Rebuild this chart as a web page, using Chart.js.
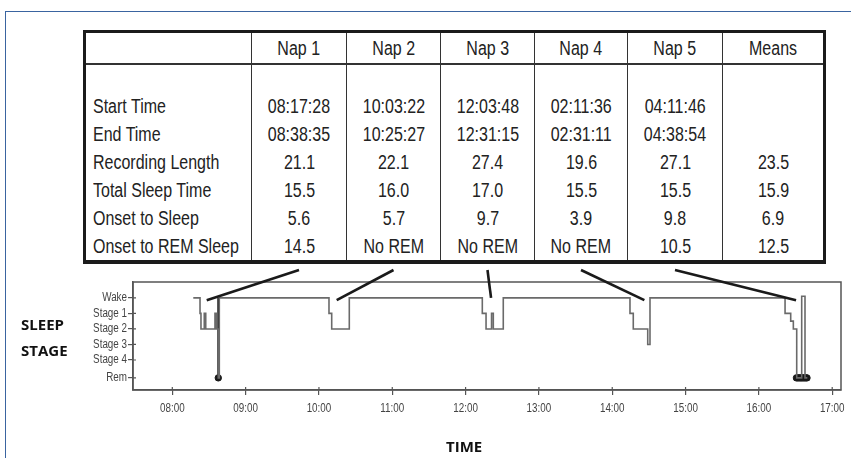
<!DOCTYPE html>
<html lang="en">
<head>
<meta charset="UTF-8">
<title>Nap study hypnogram</title>
<script src="https://cdn.jsdelivr.net/npm/chart.js@4.4.1/dist/chart.umd.min.js"></script>
<style>
    body{ margin:0; width:851px; height:458px; overflow:hidden; background:#fff; position:relative; }
    #frame{ position:absolute; left:5px; top:11px; width:900px; height:500px; border:1.5px solid #3a64a0; }
    #chart{ position:absolute; left:0; top:0; }
    #tbl{
        position:absolute; left:83px; top:30px; width:740px;
        border-collapse:collapse; table-layout:fixed;
        border:3px solid #1b1b1b; border-bottom-width:4px;
        font-family:'Liberation Sans',Arial,sans-serif; font-size:20px; color:#222;
        background:#fff;
    }
    #tbl th{ height:30px; font-weight:normal; border-left:1px solid #333; border-bottom:2px solid #333; padding:0; text-align:center; }
    #tbl td{ height:28px; border-left:1px solid #333; text-align:center; padding:0; white-space:nowrap; }
    #tbl td.lbl{ text-align:left; padding-left:7px; }
    #tbl tr.gap td{ height:27px; }
    .nar{ display:inline-block; white-space:nowrap; transform:scaleX(0.8); margin:0 -40px; }
    .lbl .nar{ transform-origin:left center; margin:0; }
    .bold{ position:absolute; font-family:'Open Sans',sans-serif; font-weight:700; font-size:15px; color:#111; }
</style>
</head>
<body>
<div id="frame"></div>
<canvas id="chart" width="851" height="458"></canvas>
<table id="tbl"></table>
<div class="bold" style="left:21px; top:311px; line-height:26px;">SLEEP<br>STAGE</div>
<div class="bold" style="left:446px; top:436px;">TIME</div>

<script>
    // table data
    var napLabels = ['Nap 1', 'Nap 2', 'Nap 3', 'Nap 4', 'Nap 5', 'Means'];
    var rowLabels = ['Start Time', 'End Time', 'Recording Length', 'Total Sleep Time', 'Onset to Sleep', 'Onset to REM Sleep'];
    var startTimes = ['08:17:28', '10:03:22', '12:03:48', '02:11:36', '04:11:46', ''];
    var endTimes = ['08:38:35', '10:25:27', '12:31:15', '02:31:11', '04:38:54', ''];
    var recordingLength = [21.1, 22.1, 27.4, 19.6, 27.1, 23.5];
    var totalSleepTime = [15.5, 16.0, 17.0, 15.5, 15.5, 15.9];
    var onsetToSleep = [5.6, 5.7, 9.7, 3.9, 9.8, 6.9];
    var onsetToRem = ['14.5', 'No REM', 'No REM', 'No REM', '10.5', '12.5'];

    // hypnogram axes
    var stageNames = ['Wake', 'Stage 1', 'Stage 2', 'Stage 3', 'Stage 4', 'Rem'];
    var stageLevels = [0, 1, 2, 3, 4, 5.15];
    var hourTicks = [8, 9, 10, 11, 12, 13, 14, 15, 16, 17];
    var hourLabels = ['08:00', '09:00', '10:00', '11:00', '12:00', '13:00', '14:00', '15:00', '16:00', '17:00'];

    // hypnogram trace: clock hour where the stage changes, and the new stage level
    var traceTimes = [8.286, 8.378, 8.391, 8.436, 8.456, 8.582, 8.603, 8.627, 8.641,
                      10.137, 10.174, 10.414,
                      12.228, 12.279, 12.354, 12.378, 12.514,
                      14.242, 14.287, 14.484, 14.515,
                      16.357, 16.434, 16.470, 16.516, 16.584, 16.629, 16.661];
    var traceStages = [0, 1, 2, 1, 2, 1, 2, 5.15, 0,
                       1, 2, 0,
                       1, 2, 1, 2, 0,
                       1, 2, 3, 0,
                       1, 1.5, 2, 5.15, -0.1, 5.15, 5.15];

    // first REM entry (dark line) and REM markers
    var remLineTimes = [8.627, 8.627];
    var remLineStages = [0, 5.15];
    var remDotTimes = [8.627, 16.512, 16.530, 16.548, 16.566, 16.584, 16.602, 16.620, 16.640, 16.656];
    var remDotStages = [5.15, 5.15, 5.15, 5.15, 5.15, 5.15, 5.15, 5.15, 5.15, 5.15];

    // where each table column points into the hypnogram
    var linkTimes = [8.469, 10.242, 12.347, 14.438, 16.507];
    var linkStages = [0.15, 0.15, 0, 0.15, 0.15];

    function narrowCell(cell, text){
        var s = document.createElement('span');
        s.className = 'nar';
        s.textContent = text;
        cell.appendChild(s);
    }

    function buildTable(){
        var tbl = document.getElementById('tbl');
        var colWidths = [167, 95, 94, 94, 93, 95, 102];
        var cg = document.createElement('colgroup');
        colWidths.forEach(function(w){
            var c = document.createElement('col');
            c.style.width = w + 'px';
            cg.appendChild(c);
        });
        tbl.appendChild(cg);

        var head = tbl.insertRow();
        head.appendChild(document.createElement('th'));
        napLabels.forEach(function(n){
            var th = document.createElement('th');
            narrowCell(th, n);
            head.appendChild(th);
        });

        var gap = tbl.insertRow();
        gap.className = 'gap';
        for (var i = 0; i < 7; i++) gap.insertCell();

        var rows = [
            startTimes,
            endTimes,
            recordingLength.map(function(v){ return v.toFixed(1); }),
            totalSleepTime.map(function(v){ return v.toFixed(1); }),
            onsetToSleep.map(function(v){ return v.toFixed(1); }),
            onsetToRem
        ];
        rows.forEach(function(vals, r){
            var row = tbl.insertRow();
            var lbl = row.insertCell();
            lbl.className = 'lbl';
            narrowCell(lbl, rowLabels[r]);
            vals.forEach(function(v){
                narrowCell(row.insertCell(), v);
            });
        });
    }
    buildTable();

    function pts(xs, ys){
        return xs.map(function(x, i){ return { x: x, y: ys[i] }; });
    }

    var labelFont = "12px 'Liberation Sans', Arial, sans-serif";

    // box round the plot, condensed tick labels, and the lines from the table into the plot
    var framePlugin = {
        id: 'framePlugin',
        afterDatasetsDraw: function(chart){
            var ctx = chart.ctx, a = chart.chartArea;
            var xs = chart.scales.x, ys = chart.scales.y;
            ctx.save();
            ctx.strokeStyle = '#555';
            ctx.lineWidth = 1.5;
            ctx.strokeRect(a.left, a.top, a.right - a.left, a.bottom - a.top);

            // tick marks run a little into the plot too
            ctx.lineWidth = 1.2;
            ctx.beginPath();
            xs.ticks.forEach(function(t){
                var px = xs.getPixelForValue(t.value);
                ctx.moveTo(px, a.bottom - 3);
                ctx.lineTo(px, a.bottom);
            });
            ys.ticks.forEach(function(t){
                var py = ys.getPixelForValue(t.value);
                ctx.moveTo(a.left, py);
                ctx.lineTo(a.left + 3, py);
            });
            ctx.stroke();

            ctx.fillStyle = '#444';
            ctx.font = labelFont;
            ctx.textBaseline = 'middle';
            ys.ticks.forEach(function(t, i){
                ctx.save();
                ctx.translate(a.left - 6, ys.getPixelForValue(t.value));
                ctx.scale(0.82, 1);
                ctx.textAlign = 'right';
                ctx.fillText(stageNames[i], 0, 0);
                ctx.restore();
            });
            xs.ticks.forEach(function(t, i){
                ctx.save();
                ctx.translate(xs.getPixelForValue(t.value), a.bottom + 19);
                ctx.scale(0.82, 1);
                ctx.textAlign = 'center';
                ctx.fillText(hourLabels[i], 0, 0);
                ctx.restore();
            });

            var tblRect = document.getElementById('tbl').getBoundingClientRect();
            var heads = document.querySelectorAll('#tbl th');
            ctx.strokeStyle = '#1a1a1a';
            ctx.lineWidth = 2.6;
            linkTimes.forEach(function(t, i){
                var hr = heads[i + 1].getBoundingClientRect();
                var x0 = hr.left + hr.width / 2;
                var y0 = tblRect.bottom + 6;
                ctx.beginPath();
                ctx.moveTo(x0, y0);
                ctx.lineTo(xs.getPixelForValue(t), ys.getPixelForValue(linkStages[i]));
                ctx.stroke();
            });
            ctx.restore();
        }
    };

    new Chart(document.getElementById('chart'), {
        type: 'line',
        data: {
            datasets: [
                {
                    data: pts(traceTimes, traceStages),
                    stepped: true,
                    borderColor: '#6a6a6a',
                    borderWidth: 1.6,
                    pointRadius: 0,
                    fill: false
                },
                {
                    data: pts(remLineTimes, remLineStages),
                    borderColor: '#1a1a1a',
                    borderWidth: 2,
                    pointRadius: 0,
                    fill: false
                },
                {
                    data: pts(remDotTimes, remDotStages),
                    showLine: false,
                    pointRadius: 3.2,
                    pointBackgroundColor: '#1a1a1a',
                    pointBorderColor: '#1a1a1a'
                }
            ]
        },
        options: {
            responsive: false,
            animation: false,
            layout: { padding: { left: 63, top: 282, right: 10, bottom: 0 } },
            plugins: { legend: { display: false }, tooltip: { enabled: false } },
            scales: {
                x: {
                    type: 'linear',
                    min: 7.464,
                    max: 17.12,
                    afterBuildTicks: function(scale){
                        scale.ticks = hourTicks.map(function(v){ return { value: v }; });
                    },
                    afterFit: function(scale){ scale.height = 68; },
                    ticks: { display: false },
                    grid: { drawOnChartArea: false, tickLength: 5, color: '#555', lineWidth: 1.2 },
                    border: { color: '#555', width: 1.5 }
                },
                y: {
                    type: 'linear',
                    reverse: true,
                    min: -1.02,
                    max: 5.93,
                    afterBuildTicks: function(scale){
                        scale.ticks = stageLevels.map(function(v){ return { value: v }; });
                    },
                    afterFit: function(scale){ scale.width = 70; },
                    ticks: { display: false },
                    grid: { drawOnChartArea: false, tickLength: 5, color: '#555', lineWidth: 1.2 },
                    border: { color: '#555', width: 1.5 }
                }
            }
        },
        plugins: [framePlugin]
    });
</script>
</body>
</html>
